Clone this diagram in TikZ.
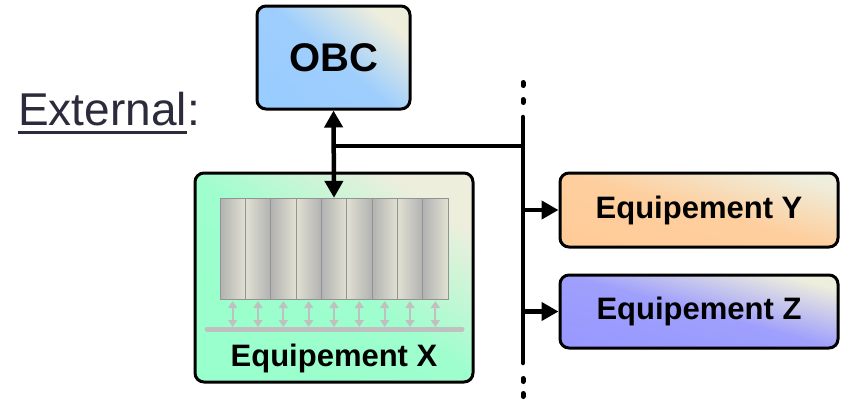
\documentclass[tikz,border=0pt]{standalone}
\usepackage{fontspec}
\setmainfont{Liberation Sans}
\usetikzlibrary{arrows.meta}
\definecolor{obcC}{HTML}{99CCFF}
\definecolor{xC}{HTML}{99FFCC}
\definecolor{yC}{HTML}{FFCC99}
\definecolor{zC}{HTML}{9999FF}
\definecolor{cream}{HTML}{EEEEDD}
\definecolor{extC}{HTML}{2B2B3B}
\definecolor{cardD}{HTML}{B2B2B2}
\definecolor{cardL}{HTML}{E0E0D2}
\definecolor{pale}{HTML}{C0C0C0}
\tikzset{
  box/.style={draw=black, line width=3pt, rounded corners=9pt, inner sep=0pt,
    font=\bfseries\fontsize{31}{36}\selectfont},
  gradbox/.style 2 args={box, top color=cream, bottom color=#1, middle color=#1!93!cream, shading angle=#2},
  conn/.style={line width=4.5pt, draw=black},
  tip/.style={-{Triangle[length=17pt,width=18pt]}},
  dtip/.style={{Triangle[length=17pt,width=18pt]}-{Triangle[length=17pt,width=18pt]}},
  dotseg/.style={line width=5pt, line cap=round},
  smallarr/.style={draw=pale, line width=2pt, {Triangle[length=7pt,width=9pt]}-{Triangle[length=7pt,width=9pt]}},
  cardbox/.style={draw=gray!85, line width=1pt}
}
\begin{document}
\begin{tikzpicture}[x=1pt,y=-1pt]
\useasboundingbox (0,0) rectangle (842,400);
% External label
\node[inner sep=0pt, anchor=base west, text=extC, font=\fontsize{46}{50}\selectfont] (ext) at (18,125) {External};
\node[inner sep=0pt, anchor=base west, text=extC, font=\fontsize{46}{50}\selectfont] (colon) at (ext.base east) {:};
\draw[extC, line width=3pt] ([yshift=-7pt]ext.base west) -- ([yshift=-7pt]ext.base east);
% boxes
\node[gradbox={obcC}{-40}, minimum width=153pt, minimum height=103pt, font=\bfseries\fontsize{40}{44}\selectfont] (obc) at (333.5,57.5) {OBC};
\node[gradbox={xC}{-35}, minimum width=278pt, minimum height=209pt] (eqx) at (334,277.5) {};
\node[font=\bfseries\fontsize{31}{36}\selectfont, inner sep=0pt] (eqxl) at (334,358) {Equipement X};
\node[gradbox={yC}{-15}, minimum width=278pt, minimum height=74pt] (eqy) at (699,210) {Equipement Y};
\node[gradbox={zC}{-15}, minimum width=278pt, minimum height=73pt] (eqz) at (699,311.5) {Equipement Z};
% cards
\node[minimum width=228pt, minimum height=101pt, inner sep=0pt] (cards) at (334,248.5) {};
\foreach \i in {0,2,4,6,8}{
  \shade[cardbox, left color=cardD, right color=cardL] ({220+\i*25.333},198) rectangle +(25.333,101);
}
\foreach \i in {1,3,5,7}{
  \shade[cardbox, left color=cardL, right color=cardD] ({220+\i*25.333},198) rectangle +(25.333,101);
}
\foreach \i in {0,...,8}{
  \draw[smallarr] ({220+(\i+0.5)*25.333},301) -- ({220+(\i+0.5)*25.333},327);
}
\draw[draw=pale, line width=5pt, line cap=round] (207,329) -- (462,329);
% bus
\coordinate (j) at (334,146);
\coordinate (vt) at (523,117);
\coordinate (vb) at (523,363);
\draw[conn, dtip] (obc.south) -- (cards.north);
\draw[conn] (j) -- (vt |- j);
\draw[conn, line cap=round] (vt) -- (vb);
\draw[conn, tip] (vt |- eqy.west) -- (eqy.west);
\draw[conn, tip] (vt |- eqz.west) -- (eqz.west);
% dots
\coordinate (d1) at (523,84);
\coordinate (d2) at (523,101);
\coordinate (d3) at (523,380);
\coordinate (d4) at (523,395);
\foreach \d in {d1,d2,d3,d4}{
  \draw[dotseg] ([yshift=1.5pt]\d) -- ([yshift=-1.5pt]\d);
}
\end{tikzpicture}
\end{document}
